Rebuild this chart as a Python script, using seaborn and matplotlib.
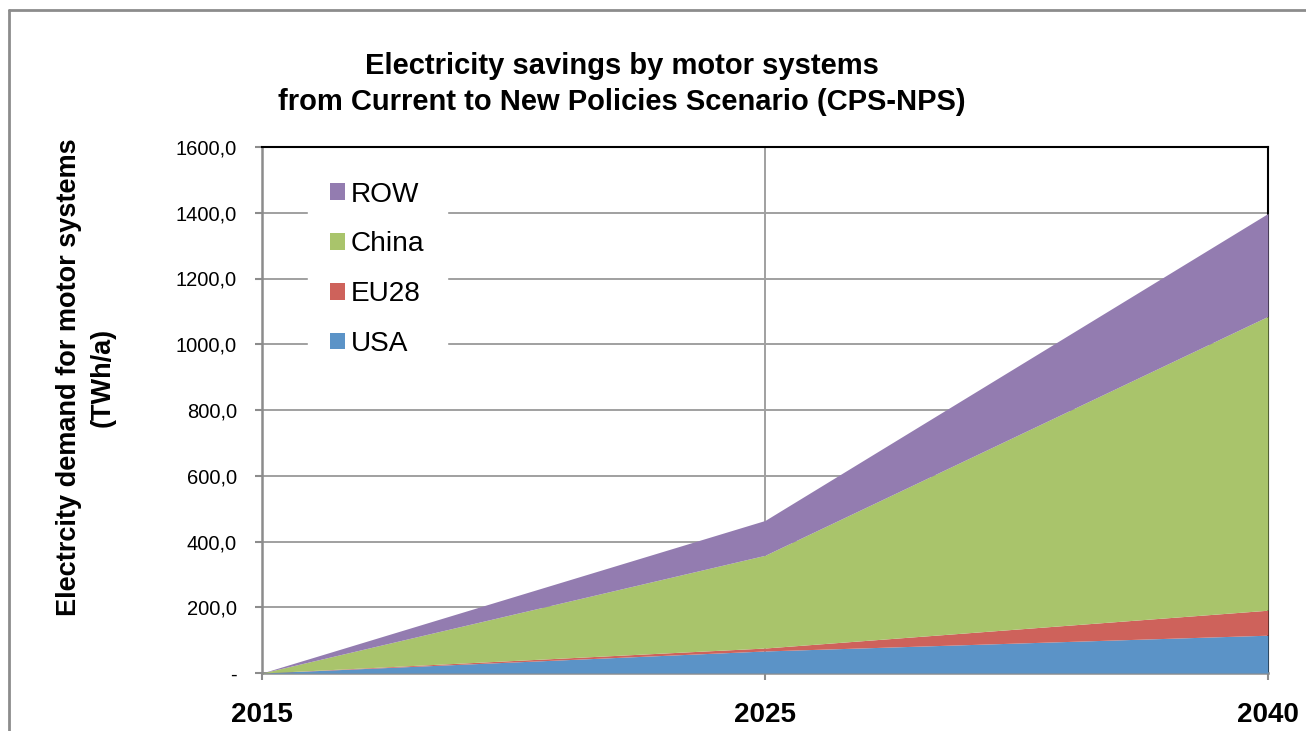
import matplotlib
matplotlib.use("Agg")
import matplotlib.pyplot as plt
from matplotlib.lines import Line2D
from matplotlib.ticker import FuncFormatter, MultipleLocator
import seaborn as sns

# Scenario years (category axis) and savings per region, TWh/a
years = ["2015", "2025", "2040"]
usa = [0.0, 67.0, 115.0]
eu28 = [0.0, 9.0, 76.0]
china = [0.0, 282.0, 894.0]
row = [0.0, 106.0, 313.0]

regions = ["USA", "EU28", "China", "ROW"]
colors = ["#5B93C7", "#CE625B", "#A9C46B", "#937CB0"]

sns.set_theme(style="white")
plt.rcParams["font.family"] = ["Liberation Sans", "DejaVu Sans"]
plt.rcParams["text.color"] = "black"
plt.rcParams["xtick.color"] = "black"
plt.rcParams["ytick.color"] = "black"

fig = plt.figure(figsize=(13.06, 7.31), dpi=100)
ax = fig.add_axes([262 / 1306, 1 - 673 / 731, 1006 / 1306, 526 / 731])

x = list(range(len(years)))
ax.stackplot(x, usa, eu28, china, row, labels=regions,
             colors=sns.color_palette(colors), linewidth=0, zorder=3)

ax.set_xlim(0, len(years) - 1)
ax.set_ylim(0, 1600)
ax.set_xticks(x)
ax.set_xticklabels(years, fontsize=20, fontweight="bold")
ax.yaxis.set_major_locator(MultipleLocator(200))
ax.yaxis.set_major_formatter(FuncFormatter(
    lambda v, p: "-" if v == 0 else f"{v:.1f}".replace(".", ",")))
ax.tick_params(axis="y", labelsize=14.5, length=5, width=1.5, color="#8C8C8C",
               labelcolor="black", pad=13, left=True, direction="out")
ax.tick_params(axis="x", length=5, width=1.5, color="#8C8C8C",
               labelcolor="black", pad=16, bottom=True, direction="out")

ax.grid(True, color="#A0A0A0", linewidth=1.4, zorder=1)
ax.set_axisbelow(True)

for side in ("left", "bottom"):
    ax.spines[side].set_color("#8C8C8C")
    ax.spines[side].set_linewidth(1.8)
for side in ("top", "right"):
    ax.spines[side].set_color("#000000")
    ax.spines[side].set_linewidth(1.5)

handles, labels = ax.get_legend_handles_labels()
leg = ax.legend(handles[::-1], labels[::-1], loc="upper left",
                bbox_to_anchor=(0.0457, 0.977), fontsize=20.2, frameon=True,
                handlelength=0.53, handleheight=0.53, handletextpad=0.2,
                labelspacing=0.85, borderpad=0.8, borderaxespad=0)
leg.get_frame().set_facecolor("white")
leg.get_frame().set_edgecolor("white")
leg.get_frame().set_alpha(1)
leg.set_zorder(5)
for t in leg.get_texts():
    t.set_color("black")

fig.text(622 / 1306, 1 - 84 / 731,
         "Electricity savings by motor systems\nfrom Current to New Policies Scenario (CPS-NPS)",
         ha="center", va="center", fontsize=21, fontweight="bold",
         linespacing=1.4, color="black")

fig.text(86 / 1306, 1 - 377 / 731,
         "Electrcity demand for motor systems\n(TWh/a)",
         ha="center", va="center", rotation=90, fontsize=19.5,
         fontweight="bold", linespacing=1.35, color="black")

# outer chart frame
fig.add_artist(Line2D([9 / 1306, 1], [1 - 10 / 731, 1 - 10 / 731],
                      transform=fig.transFigure, color="#8C8C8C", linewidth=2))
fig.add_artist(Line2D([9 / 1306, 9 / 1306], [0, 1 - 10 / 731],
                      transform=fig.transFigure, color="#8C8C8C", linewidth=2))

fig.savefig("out.png", dpi=100, facecolor="white")
